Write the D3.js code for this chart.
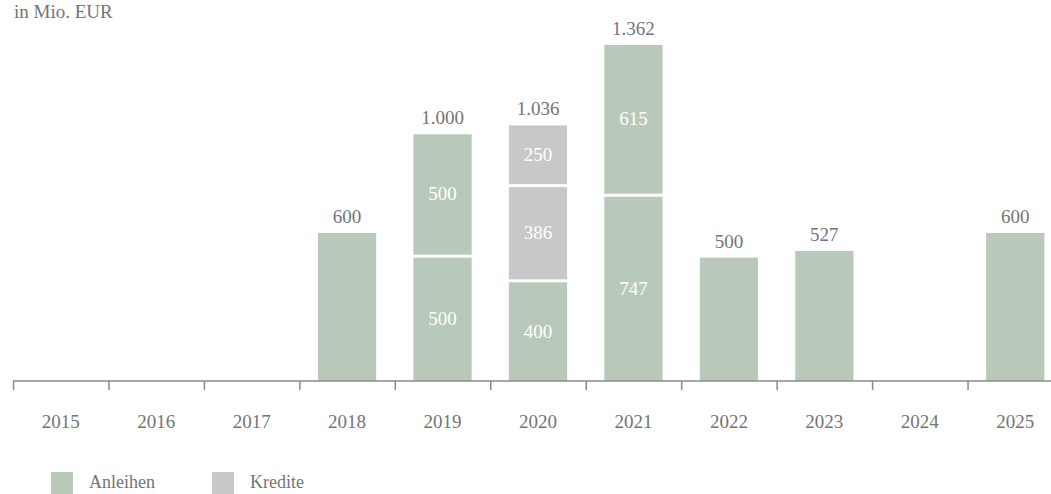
<!DOCTYPE html>
<html lang="de">
<head>
<meta charset="UTF-8">
<title>Fälligkeiten</title>
<style>
  body { margin: 0; background: #fff; overflow: hidden; }
  svg { display: block; }
  text { font-family: "Liberation Serif", "DejaVu Serif", serif; fill: #747474; }
</style>
<script src="https://d3js.org/d3.v7.min.js"></script>
</head>
<body>
<svg id="chart" width="1051" height="494"></svg>
<script>
const years = ["2015", "2016", "2017", "2018", "2019", "2020", "2021", "2022", "2023", "2024", "2025"];
// stacked segments, bottom to top
const anleihenUnten = [0, 0, 0, 600, 500, 400, 747, 500, 527, 0, 600];
const krediteUnten  = [0, 0, 0, 0, 0, 386, 0, 0, 0, 0, 0];
const krediteOben   = [0, 0, 0, 0, 0, 250, 0, 0, 0, 0, 0];
const anleihenOben  = [0, 0, 0, 0, 500, 0, 615, 0, 0, 0, 0];
const totals = ["", "", "", "600", "1.000", "1.036", "1.362", "500", "527", "", "600"];

const green = "#b8c9b9", grey = "#c8c8c8";
const layers = [
  { key: "a1", color: green, values: anleihenUnten },
  { key: "k1", color: grey, values: krediteUnten },
  { key: "k2", color: grey, values: krediteOben },
  { key: "a2", color: green, values: anleihenOben }
];

const rows = years.map((y, i) => {
  const r = { year: y };
  layers.forEach(l => r[l.key] = l.values[i]);
  return r;
});
const stacked = d3.stack().keys(layers.map(l => l.key))(rows);

const svg = d3.select("#chart");
const x = d3.scaleBand().domain(years).range([13, 1063]).paddingInner(0.39).paddingOuter(0.195);
const y = d3.scaleLinear().domain([0, 1362]).range([381, 45]);

svg.append("text").attr("x", 14).attr("y", 18).style("font-size", "19px").text("in Mio. EUR");

const gap = 3;

stacked.forEach((s, li) => {
  const g = svg.append("g");
  s.forEach((d, i) => {
    const v = d[1] - d[0];
    if (!v) return;
    const top = y(d[1]);
    const bottom = y(d[0]) - (d[0] > 0 ? gap : 0);
    g.append("rect")
      .attr("x", x(years[i]))
      .attr("y", top)
      .attr("width", x.bandwidth())
      .attr("height", bottom - top)
      .attr("fill", layers[li].color);
    // inner label only for stacked bars
    const total = stacked[stacked.length - 1][i][1];
    if (total !== v) {
      g.append("text")
        .attr("x", x(years[i]) + x.bandwidth() / 2)
        .attr("y", (top + bottom) / 2 + 6)
        .attr("text-anchor", "middle")
        .style("font-size", "19px")
        .style("fill", "#fff")
        .text(v);
    }
  });
});

// totals above bars
svg.append("g").selectAll("text")
  .data(years)
  .join("text")
  .attr("x", d => x(d) + x.bandwidth() / 2)
  .attr("y", (d, i) => y(stacked[stacked.length - 1][i][1]) - 10)
  .attr("text-anchor", "middle")
  .style("font-size", "19px")
  .text((d, i) => totals[i]);

// axis with ticks on category boundaries
const axisY = 381;
svg.append("line")
  .attr("x1", 13).attr("x2", 1051).attr("y1", axisY).attr("y2", axisY)
  .attr("stroke", "#8a8a8a").attr("stroke-width", 1.5);
const step = x.step();
svg.append("g").selectAll("line")
  .data(years)
  .join("line")
  .attr("x1", (d, i) => 13.5 + i * step)
  .attr("x2", (d, i) => 13.5 + i * step)
  .attr("y1", axisY).attr("y2", axisY + 9)
  .attr("stroke", "#8a8a8a").attr("stroke-width", 1.5);
svg.append("g").selectAll("text")
  .data(years)
  .join("text")
  .attr("x", d => x(d) + x.bandwidth() / 2)
  .attr("y", 428)
  .attr("text-anchor", "middle")
  .style("font-size", "19px")
  .text(d => d);

// legend
const legend = [{ name: "Anleihen", color: green, x: 51 }, { name: "Kredite", color: grey, x: 212 }];
const lg = svg.append("g").selectAll("g").data(legend).join("g")
  .attr("transform", d => `translate(${d.x},472)`);
lg.append("rect").attr("width", 22).attr("height", 22).attr("fill", d => d.color);
lg.append("text").attr("x", 38).attr("y", 16).style("font-size", "18px").text(d => d.name);
</script>
</body>
</html>
